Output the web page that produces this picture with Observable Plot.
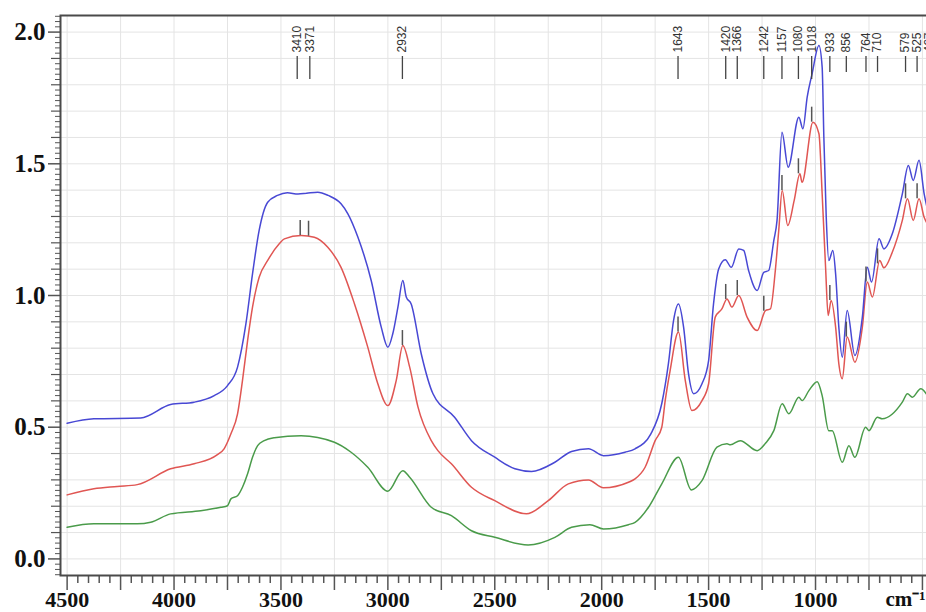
<!DOCTYPE html>
<html>
<head>
<meta charset="utf-8">
<script src="https://cdn.jsdelivr.net/npm/d3@7"></script>
<script src="https://cdn.jsdelivr.net/npm/@observablehq/plot@0.6"></script>
<style>
  html, body { margin: 0; padding: 0; background: #fff; }
  #chart svg { display: block; }
</style>
</head>
<body>
<div id="chart"></div>
<script>
// ---- Data (wavenumber cm-1, absorbance) ----
const blueX = [4500,4375,4156,4016,3906,3812,3750,3703,3664,3633,3602,3562,3516,3470,3420,3380,3328,3280,3219,3187,3140,3078,3031,3000,2977,2953,2930,2914,2891,2844,2789,2688,2609,2500,2406,2328,2219,2141,2062,1992,1891,1844,1770,1719,1688,1664,1641,1617,1594,1570,1531,1500,1477,1453,1422,1394,1359,1336,1313,1273,1242,1219,1195,1180,1157,1128,1078,1059,1039,1016,984,969,961,950,938,919,906,891,875,852,816,781,758,738,703,680,641,594,566,543,516,492,477];
const blueY = [0.515,0.532,0.535,0.586,0.595,0.620,0.658,0.728,0.892,1.082,1.247,1.354,1.380,1.390,1.385,1.388,1.392,1.380,1.348,1.310,1.221,1.057,0.880,0.804,0.855,0.956,1.057,0.994,0.968,0.779,0.627,0.538,0.449,0.386,0.342,0.332,0.367,0.408,0.418,0.392,0.405,0.418,0.475,0.590,0.741,0.905,0.968,0.880,0.703,0.627,0.665,0.753,0.968,1.101,1.136,1.107,1.177,1.171,1.095,1.019,1.088,1.095,1.209,1.285,1.620,1.487,1.677,1.633,1.753,1.842,1.949,1.867,1.600,1.300,1.133,1.171,1.082,0.880,0.766,0.943,0.772,0.918,1.107,1.051,1.215,1.177,1.234,1.386,1.494,1.437,1.513,1.386,1.329];

const redX = [4500,4375,4266,4172,4016,3906,3797,3766,3734,3703,3680,3656,3633,3602,3562,3508,3484,3406,3344,3281,3219,3156,3094,3047,3000,2961,2930,2898,2859,2797,2766,2703,2609,2500,2352,2250,2156,2062,1992,1875,1844,1797,1750,1719,1703,1680,1641,1609,1578,1531,1500,1469,1438,1414,1391,1359,1320,1273,1234,1211,1188,1172,1156,1130,1100,1073,1063,1012,984,969,953,941,927,906,891,875,852,816,781,758,734,700,680,641,594,570,543,516,492,477];
const redY = [0.243,0.266,0.275,0.282,0.342,0.361,0.396,0.418,0.475,0.551,0.677,0.829,0.956,1.069,1.133,1.196,1.215,1.228,1.221,1.183,1.107,0.968,0.804,0.665,0.582,0.677,0.810,0.728,0.576,0.449,0.411,0.361,0.272,0.221,0.171,0.221,0.285,0.300,0.270,0.291,0.304,0.348,0.449,0.500,0.601,0.715,0.861,0.677,0.563,0.601,0.665,0.918,0.949,0.987,0.956,1.000,0.918,0.867,0.943,0.949,1.095,1.247,1.399,1.266,1.360,1.462,1.430,1.658,1.614,1.386,1.107,0.924,0.981,0.880,0.741,0.684,0.842,0.747,0.880,1.051,0.994,1.133,1.105,1.164,1.285,1.367,1.285,1.367,1.297,1.272];

const greenX = [4500,4375,4172,4109,4016,3875,3781,3750,3734,3703,3680,3656,3633,3609,3578,3531,3406,3250,3172,3094,3000,2930,2898,2797,2703,2609,2500,2344,2219,2141,2055,1992,1875,1844,1781,1719,1641,1581,1531,1461,1414,1398,1352,1273,1234,1195,1156,1125,1078,1063,1031,992,969,938,922,875,844,816,766,750,711,688,594,570,547,508,472];
const greenY = [0.120,0.133,0.133,0.139,0.171,0.183,0.196,0.202,0.228,0.240,0.272,0.323,0.386,0.430,0.449,0.460,0.468,0.443,0.405,0.348,0.257,0.335,0.310,0.196,0.164,0.107,0.082,0.053,0.082,0.120,0.130,0.114,0.130,0.139,0.196,0.285,0.386,0.262,0.297,0.424,0.437,0.433,0.449,0.411,0.439,0.487,0.589,0.551,0.614,0.601,0.639,0.673,0.620,0.487,0.487,0.367,0.430,0.386,0.500,0.487,0.538,0.532,0.595,0.627,0.614,0.646,0.614];

// peak annotations: label text, label position, peak position, red-curve height at peak
const peakLabels = ["3410","3371","2932","1643","1420","1366","1242","1157","1080","1018","933","856","764","710","579","525","467"];
const peakLabelX = [3424,3365,2932,1643,1420,1366,1242,1157,1080,1018,933,856,764,710,579,525,470];
const peakX      = [3410,3371,2932,1643,1420,1366,1242,1157,1080,1018,933,856,764,710,579,525,470];
const peakRedY   = [1.228,1.225,0.810,0.861,0.985,1.000,0.940,1.399,1.462,1.658,0.981,0.842,1.051,1.120,1.367,1.367,null];

// axis tick labels
const xTickLabels = [4500,4000,3500,3000,2500,2000,1500,1000];
const yTickLabels = [0.0,0.5,1.0,1.5,2.0];
const unitLabel = "cm\u207B\u00B9";

// ---- build rows ----
const rows = (xs, ys) => xs.map((x, i) => ({x, y: ys[i]}));
const blue = rows(blueX, blueY), red = rows(redX, redY), green = rows(greenX, greenY);
const peaks = peakX.map((x, i) => ({x, lx: peakLabelX[i], label: peakLabels[i], r: peakRedY[i]}));

const xGrid = d3.range(4500, 480, -250);
const xMinor = d3.range(4500, 480, -50).filter(d => d % 250 !== 0);
const yGrid = d3.range(0, 21).map(i => i / 10);
const yMid = yGrid.filter((d, i) => i % 5 !== 0);
const yMinor = d3.range(-3, 104).map(i => i / 50).filter(d => Math.round(d * 50) % 5 !== 0);

const W = 926, H = 612, mL = 60, mT = 15, mB = 37, mR = 0;
const plotH = H - mT - mB, plotW = W - mL - mR;
const tickColor = "#555";
const serif = "'Liberation Serif', 'Times New Roman', serif";

const chart = Plot.plot({
  width: W, height: H,
  marginLeft: mL, marginRight: mR, marginTop: mT, marginBottom: mB,
  x: {domain: [4531, 481], axis: null},
  y: {domain: [-0.063, 2.063], axis: null},
  style: {background: "#fff", overflow: "visible"},
  marks: [
    // grid
    Plot.ruleX(xGrid, {x: d => d, stroke: "#e4e4e4", strokeWidth: 1}),
    Plot.ruleY(yGrid, {y: d => d, stroke: "#e4e4e4", strokeWidth: 1}),
    // x ticks below frame
    Plot.ruleX(xGrid, {x: d => d, insetTop: plotH, insetBottom: -15, stroke: tickColor, strokeWidth: 1.5}),
    Plot.ruleX(xMinor, {x: d => d, insetTop: plotH, insetBottom: -8, stroke: tickColor, strokeWidth: 1.5}),
    // y ticks left of frame
    Plot.ruleY(yTickLabels, {y: d => d, insetLeft: -12, insetRight: plotW, stroke: tickColor, strokeWidth: 1.5}),
    Plot.ruleY(yMid, {y: d => d, insetLeft: -9, insetRight: plotW, stroke: tickColor, strokeWidth: 1.2}),
    Plot.ruleY(yMinor, {y: d => d, insetLeft: -5, insetRight: plotW, stroke: tickColor, strokeWidth: 1}),
    // frame
    Plot.frame({stroke: "#4a4a4a", strokeWidth: 2, insetRight: -4}),
    // tick labels
    Plot.text(xTickLabels, {x: d => d, text: d => String(d), frameAnchor: "bottom", dy: 24, lineAnchor: "middle",
      fontSize: 22, fontWeight: "bold", fontFamily: serif, fill: "#111"}),
    Plot.text(yTickLabels, {y: d => d, text: d => d.toFixed(1), frameAnchor: "left", dx: -15, textAnchor: "end",
      lineAnchor: "middle", fontSize: 25, fontWeight: "bold", fontFamily: serif, fill: "#111"}),
    Plot.text([unitLabel], {text: d => d, frameAnchor: "bottom-right", dx: -1, dy: 24, textAnchor: "end",
      lineAnchor: "middle", fontSize: 21, fontWeight: "bold", fontFamily: serif, fill: "#111"}),
    // spectra
    Plot.line(green, {x: "x", y: "y", stroke: "#4a9b4a", strokeWidth: 1.5, curve: "monotone-x"}),
    Plot.line(red, {x: "x", y: "y", stroke: "#e05653", strokeWidth: 1.5, curve: "monotone-x"}),
    Plot.line(blue, {x: "x", y: "y", stroke: "#4848d4", strokeWidth: 1.5, curve: "monotone-x"}),
    // peak markers on red curve
    Plot.ruleX(peaks.filter(d => d.r != null), {x: "x", y1: "r", y2: "r", insetBottom: 15, stroke: "#555", strokeWidth: 1.5}),
    // peak leader lines and labels
    Plot.ruleX(peaks.filter(d => d.x >= 1000), {x: "lx", insetTop: 41, insetBottom: plotH - 64, stroke: "#444", strokeWidth: 1.3}),
    Plot.ruleX(peaks.filter(d => d.x < 1000), {x: "lx", insetTop: 41, insetBottom: plotH - 57, stroke: "#444", strokeWidth: 1.3}),
    Plot.text(peaks, {x: "lx", text: "label", frameAnchor: "top", dy: 37, rotate: -90, textAnchor: "start",
      lineAnchor: "middle", fontSize: 12, fontFamily: "'Liberation Sans', Arial, sans-serif", fill: "#333"})
  ]
});
document.getElementById("chart").appendChild(chart);
</script>
</body>
</html>
